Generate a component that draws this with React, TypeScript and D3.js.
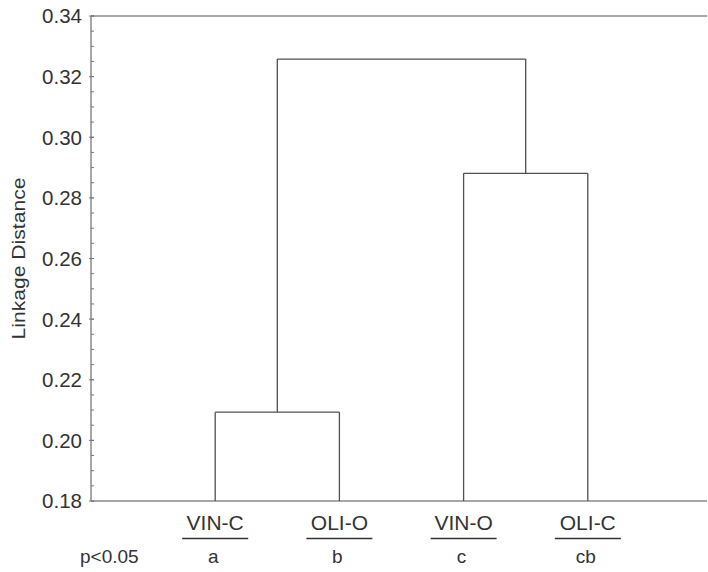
import React from "react";
import * as d3 from "d3";

const leaves = ["VIN-C", "OLI-O", "VIN-O", "OLI-C"];
const groups = ["a", "b", "c", "cb"];
// merges: [left child, right child, linkage distance]; children ids: leaf index or "m" + merge index
const merges: [string, string, number][] = [
  ["0", "1", 0.2093],
  ["2", "3", 0.2881],
  ["m0", "m1", 0.3258],
];
const yTicks = [0.18, 0.2, 0.22, 0.24, 0.26, 0.28, 0.3, 0.32, 0.34];
const sigLabel = "p<0.05";
const yTitle = "Linkage Distance";

const W = 708;
const H = 572;
const left = 91;
const right = 707;
const top = 16;
const bottom = 501;

export default function App() {
  const y = d3.scaleLinear().domain([0.18, 0.34]).range([bottom, top]);
  const x = d3.scalePoint<string>().domain(leaves).range([left, 712]).padding(1);
  const minorTicks = d3.range(0.18, 0.3401, 0.005);

  const pos: Record<string, { x: number; h: number }> = {};
  leaves.forEach((l, i) => {
    pos[String(i)] = { x: x(l) as number, h: 0.18 };
  });
  const segs: { x1: number; y1: number; x2: number; y2: number }[] = [];
  merges.forEach(([a, b, h], i) => {
    const A = pos[a];
    const B = pos[b];
    segs.push({ x1: A.x, y1: y(A.h), x2: A.x, y2: y(h) });
    segs.push({ x1: B.x, y1: y(B.h), x2: B.x, y2: y(h) });
    segs.push({ x1: A.x, y1: y(h), x2: B.x, y2: y(h) });
    pos["m" + i] = { x: (A.x + B.x) / 2, h };
  });

  const font = "'Liberation Sans', Arial, sans-serif";
  const txt = "#333";
  const axisCol = "#8a8a8a";

  return (
    <svg width={W} height={H} style={{ position: "absolute", left: 0, top: 0, background: "#fff" }}>
      <rect x={0} y={0} width={W} height={H} fill="#fff" />
      {/* frame lines */}
      <line x1={left} y1={top} x2={right} y2={top} stroke={axisCol} strokeWidth={1.5} />
      <line x1={left} y1={bottom} x2={right} y2={bottom} stroke={axisCol} strokeWidth={1.5} />
      <line x1={left} y1={top} x2={left} y2={bottom} stroke={axisCol} strokeWidth={1.5} />
      {minorTicks.map((t, i) => (
        <line key={"m" + i} x1={left} x2={left + 3} y1={y(t)} y2={y(t)} stroke="#777" strokeWidth={1} />
      ))}
      {yTicks.map((t) => (
        <g key={t}>
          <line x1={left - 2} x2={left + 3} y1={y(t)} y2={y(t)} stroke="#777" strokeWidth={1} />
          <text x={82} y={y(t)} dy="0.36em" textAnchor="end" fontFamily={font} fontSize={20.5} fill={txt}>
            {t.toFixed(2)}
          </text>
        </g>
      ))}
      <text
        transform={`translate(25, ${(top + bottom) / 2}) rotate(-90)`}
        textAnchor="middle"
        fontFamily={font}
        fontSize={17.5}
        fill={txt}
        textLength={162}
        lengthAdjust="spacingAndGlyphs"
      >
        {yTitle}
      </text>
      {/* dendrogram */}
      {segs.map((s, i) => (
        <line key={i} x1={s.x1} y1={s.y1} x2={s.x2} y2={s.y2} stroke="#505050" strokeWidth={1.3} />
      ))}
      {/* leaf labels */}
      {leaves.map((l, i) => {
        const cx = x(l) as number;
        return (
          <g key={l}>
            <text x={cx} y={530} textAnchor="middle" fontFamily={font} fontSize={21} fill={txt}>
              {l}
            </text>
            <line x1={cx - 33} x2={cx + 33} y1={538.5} y2={538.5} stroke="#333" strokeWidth={1.5} />
            <text x={cx - 2} y={563} textAnchor="middle" fontFamily={font} fontSize={19} fill={txt}>
              {groups[i]}
            </text>
          </g>
        );
      })}
      <text x={80} y={563} fontFamily={font} fontSize={19} fill={txt}>
        {sigLabel}
      </text>
    </svg>
  );
}
